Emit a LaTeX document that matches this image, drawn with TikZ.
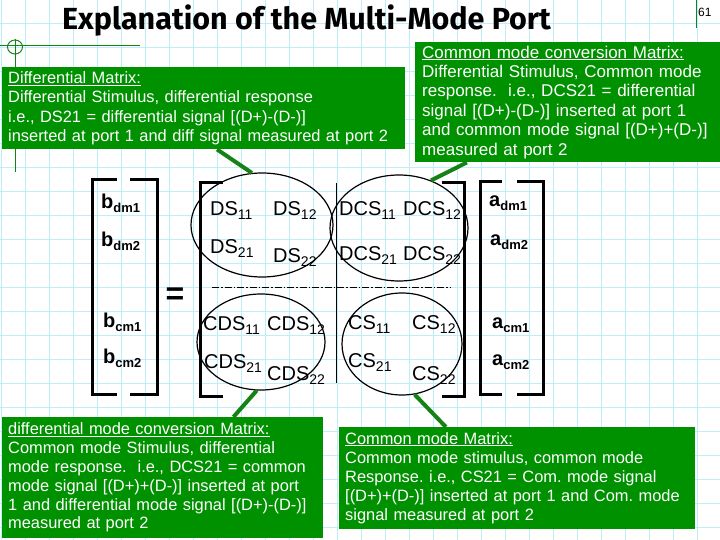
\documentclass[tikz,border=0pt]{standalone}
\usepackage{fontspec}
\setmainfont{Liberation Sans}
\newfontfamily\titlefont{Fira Sans}
\usetikzlibrary{calc,shapes.geometric,positioning}
\frenchspacing
\definecolor{boxgreen}{RGB}{0,145,0}
\definecolor{linegreen}{RGB}{20,130,20}
\definecolor{gridblue}{RGB}{190,238,250}
\tikzset{
  infobox/.style={fill=boxgreen, text=white, anchor=north west, align=left,
    inner xsep=6pt, inner ysep=2pt, font=\fontsize{16.4}{19.2}\selectfont},
  sparam/.style={anchor=base west, inner sep=0pt, font=\fontsize{20}{24}\selectfont},
  vecent/.style={anchor=base west, inner sep=0pt, font=\fontsize{20}{24}\selectfont\bfseries},
  block/.style={ellipse, draw, line width=1.2pt, inner sep=0pt},
  pointer/.style={draw=linegreen, line width=4pt},
  bracket/.style={line width=3pt},
  gridline/.style={draw=gridblue, line width=0.7pt},
}
\newcommand{\spar}[2]{#1\raisebox{-4pt}{\fontsize{14}{14}\selectfont #2}}
\newcommand{\vent}[2]{#1\raisebox{-4pt}{\fontsize{13}{13}\selectfont\bfseries #2}}

\begin{document}
\begin{tikzpicture}[x=1pt,y=-1pt]
  \useasboundingbox (0,0) rectangle (720,540);
  % graph paper
  \foreach \gx in {1,25,...,721}
    \draw[gridline] (\gx,0) -- (\gx,540);
  \foreach \gy in {23.5,47.5,...,540}
    \draw[gridline] (0,\gy) -- (720,\gy);
  % template marks
  \draw[linegreen, line width=1pt] (0,46) -- (140,46);
  \draw[linegreen, line width=1pt] (15,39) -- (15,172);
  \draw[linegreen, line width=1pt] (15,47) ellipse [x radius=7.5, y radius=7];
  \draw[linegreen, line width=1pt] (696,0) -- (696,28);
  \node[anchor=base west, inner sep=0pt, font=\fontsize{12}{12}\selectfont] (pagenum) at (698,17) {61};
  \node[anchor=base west, inner sep=0pt, font=\titlefont\fontsize{30.5}{31}\bfseries\selectfont] (title) at (62,30) {Explanation of the Multi-Mode Port};

  % green explanation boxes
  \node[infobox, minimum width=403pt, minimum height=82pt, text width=391pt] (dmbox) at (2,67) {%
    \underline{Differential Matrix:}\\
    Differential Stimulus, differential response\\
    i.e., DS21 = differential signal [(D+)-(D-)]\\
    inserted at port 1 and diff signal measured at port 2};
  \node[infobox, minimum width=305pt, minimum height=120pt, text width=291pt, inner xsep=7pt,
    font=\fontsize{17}{19.4}\selectfont] (dcbox) at (415,42) {%
    \underline{Common mode conversion Matrix:}\\
    Differential Stimulus, Common mode\\
    response.\ \ i.e., DCS21 = differential\\
    signal [(D+)-(D-)] inserted at port 1\\
    and common mode signal [(D+)+(D-)]\\
    measured at port 2};
  \node[infobox, minimum width=321pt, minimum height=121pt, text width=309pt,
    font=\fontsize{16.4}{18.8}\selectfont] (cdbox) at (2,417) {%
    \underline{differential mode conversion Matrix:}\\
    Common mode Stimulus, differential\\
    mode response.\ \ i.e., DCS21 = common\\
    mode signal [(D+)+(D-)] inserted at port\\
    1 and differential mode signal [(D+)-(D-)]\\
    measured at port 2};
  \node[infobox, minimum width=356pt, minimum height=102pt, text width=344pt] (cmbox) at (339,427) {%
    \underline{Common mode Matrix:}\\
    Common mode stimulus, common mode\\
    Response. i.e., CS21 = Com. mode signal\\
    {[}(D+)+(D-)] inserted at port 1 and Com. mode\\
    signal measured at port 2};

  % b vector
  \draw[bracket] (117,180) -- (92,180) -- (92,394) -- (117,394);
  \draw[bracket] (130,180) -- (157,180) -- (157,394) -- (130,394);
  \node[vecent] (bdm1) at (101,208) {\vent{b}{dm1}};
  \node[vecent] (bdm2) at (101,247) {\vent{b}{dm2}};
  \node[vecent] (bcm1) at (103,327) {\vent{b}{cm1}};
  \node[vecent] (bcm2) at (103,363) {\vent{b}{cm2}};
  \node[font=\fontsize{32}{32}\selectfont\bfseries, inner sep=0pt] (eq) at (175,296) {=};

  % mixed mode matrix
  \draw[bracket] (223,183) -- (200,183) -- (200,396) -- (223,396);
  \draw[bracket] (442,183) -- (464,183) -- (464,396) -- (442,396);
  \draw[line width=1pt] (336,183) -- (336,383);
  \draw[line width=1pt, dash pattern=on 7pt off 2pt on 1.5pt off 2pt] (212,287) -- (450,287);
  \node[sparam] (ds11) at (210,215) {\spar{DS}{11}};
  \node[sparam] (ds12) at (273,215) {\spar{DS}{12}};
  \node[sparam] (ds21) at (210,253) {\spar{DS}{21}};
  \node[sparam] (ds22) at (273,262) {\spar{DS}{22}};
  \node[sparam] (dcs11) at (339,215) {\spar{DCS}{11}};
  \node[sparam] (dcs12) at (403,215) {\spar{DCS}{12}};
  \node[sparam] (dcs21) at (339,260) {\spar{DCS}{21}};
  \node[sparam] (dcs22) at (403,260) {\spar{DCS}{22}};
  \node[sparam] (cds11) at (203,330) {\spar{CDS}{11}};
  \node[sparam] (cds12) at (267,330) {\spar{CDS}{12}};
  \node[sparam] (cds21) at (204,368) {\spar{CDS}{21}};
  \node[sparam] (cds22) at (267,380) {\spar{CDS}{22}};
  \node[sparam] (cs11) at (348,329) {\spar{CS}{11}};
  \node[sparam] (cs12) at (412,329) {\spar{CS}{12}};
  \node[sparam] (cs21) at (348,367) {\spar{CS}{21}};
  \node[sparam] (cs22) at (412,380) {\spar{CS}{22}};
  \node[block, minimum width=142pt, minimum height=104pt] (dmell) at (262,225) {};
  \node[block, minimum width=138pt, minimum height=106pt] (dcell) at (399,228) {};
  \node[block, minimum width=128pt, minimum height=96pt] (cdell) at (261,342) {};
  \node[block, minimum width=120pt, minimum height=102pt] (cmell) at (402,344) {};

  % a vector
  \draw[bracket] (502,182) -- (480,182) -- (480,394) -- (502,394);
  \draw[bracket] (517,182) -- (543,182) -- (543,394) -- (517,394);
  \node[vecent] (adm1) at (489,207) {\vent{a}{dm1}};
  \node[vecent] (adm2) at (490,245) {\vent{a}{dm2}};
  \node[vecent] (acm1) at (492,328) {\vent{a}{cm1}};
  \node[vecent] (acm2) at (492,365) {\vent{a}{cm2}};

  % pointers from boxes to blocks
  \draw[pointer] ($(dmbox.south west)!0.533!(dmbox.south east)$) -- (dmell.101);
  \draw[pointer] ($(dcbox.south west)!0.17!(dcbox.south east)$) -- (dcell.56);
  \draw[pointer] ($(cdbox.north west)!0.72!(cdbox.north east)$) -- (cdell.265);
  \draw[pointer] ($(cmbox.north west)!0.30!(cmbox.north east)$) -- (cmell.284);
\end{tikzpicture}
\end{document}
